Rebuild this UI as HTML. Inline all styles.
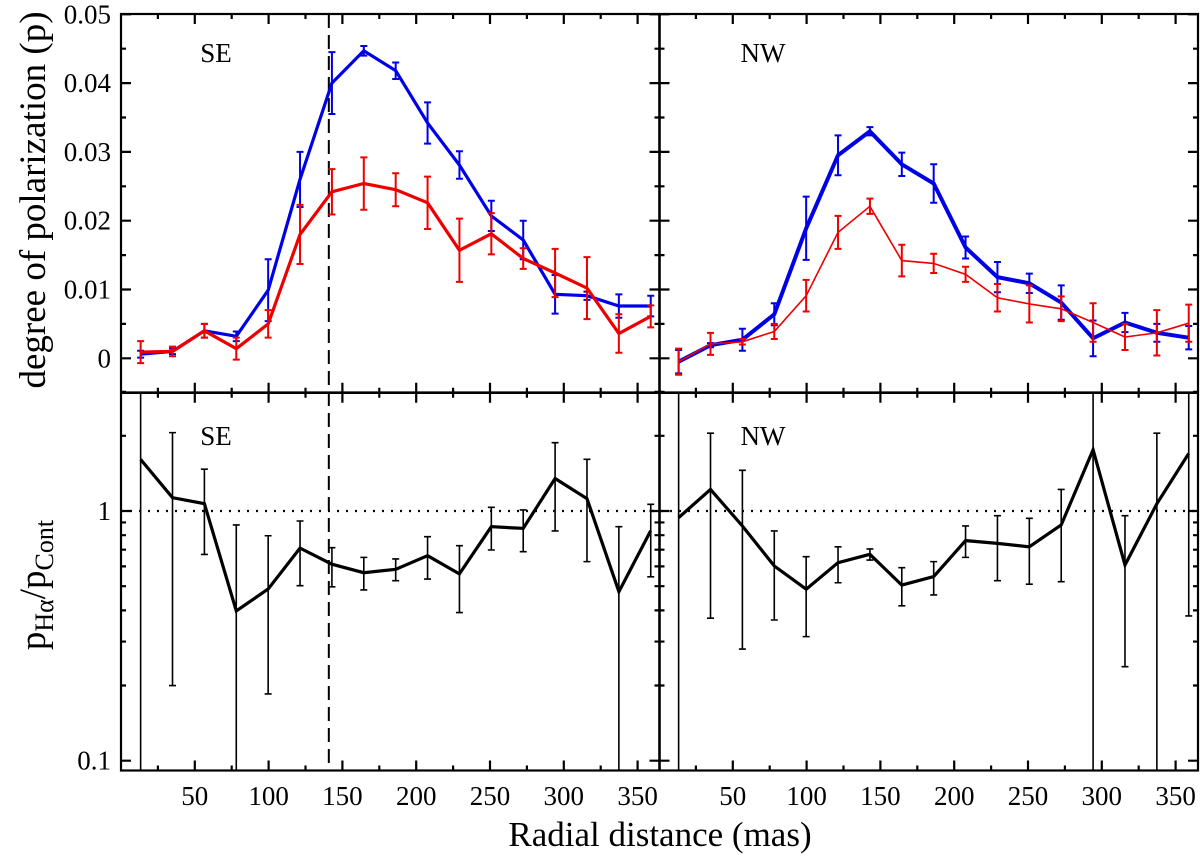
<!DOCTYPE html>
<html><head><meta charset="utf-8"><style>
html,body{margin:0;padding:0;background:#fff;width:1200px;height:868px;overflow:hidden;}
svg{display:block;}
svg text{font-family:"Liberation Serif","Times New Roman",serif;}
</style></head><body>
<svg id="chart" width="1200" height="868" viewBox="0 0 1200 868">
<defs>
<clipPath id="clipTL"><rect x="121" y="14" width="538" height="379"/></clipPath>
<clipPath id="clipTR"><rect x="659" y="14" width="539" height="379"/></clipPath>
<clipPath id="clipBL"><rect x="121" y="393" width="538" height="378"/></clipPath>
<clipPath id="clipBR"><rect x="659" y="393" width="539" height="378"/></clipPath>
</defs>
<g id="layer"></g>
<text x="45" y="200" font-size="37" text-anchor="middle" transform="rotate(-90 45 200)">degree of polarization (p)</text>
<text x="45" y="585" font-size="37" text-anchor="middle" transform="rotate(-90 45 585)">p<tspan font-size="26" dy="8">Hα</tspan><tspan dy="-8">/p</tspan><tspan font-size="26" dy="8">Cont</tspan></text>
<text x="660" y="846" font-size="35" text-anchor="middle">Radial distance (mas)</text>
<text x="216" y="62" font-size="27" text-anchor="middle">SE</text>
<text x="763" y="62" font-size="27" text-anchor="middle">NW</text>
<text x="216" y="445" font-size="27" text-anchor="middle">SE</text>
<text x="763" y="445" font-size="27" text-anchor="middle">NW</text>
</svg>
<script>
const radii = [13.3,34.9,56.5,78.1,99.7,121.3,142.9,164.5,186.1,207.7,229.3,250.9,272.5,294.1,315.7,337.3,358.9];
const seBlue = [0.0006,0.001,0.004,0.0032,0.0099,0.026,0.040,0.0447,0.0418,0.0342,0.0281,0.0207,0.0172,0.0093,0.0091,0.0076,0.0076];
const seBlueErr = [0.0005,0.0004,0.001,0.0007,0.0045,0.004,0.0045,0.0007,0.0012,0.003,0.002,0.0022,0.0028,0.0028,0.0006,0.0017,0.0015];
const seRed = [0.0009,0.001,0.004,0.0014,0.005,0.018,0.0242,0.0254,0.0245,0.0226,0.0157,0.0181,0.0145,0.0124,0.0102,0.0036,0.0061];
const seRedErr = [0.0016,0.0007,0.001,0.0016,0.002,0.0043,0.0033,0.0038,0.0024,0.0038,0.0046,0.003,0.0015,0.0035,0.0045,0.0028,0.0016];
const nwBlue = [-0.0005,0.0019,0.0027,0.0064,0.0189,0.0295,0.033,0.0282,0.0254,0.0161,0.0118,0.0109,0.0081,0.0029,0.0052,0.0037,0.003];
const nwBlueErr = [0.0017,0.0003,0.0016,0.0016,0.0046,0.0029,0.0006,0.0017,0.0028,0.0016,0.0022,0.0014,0.0025,0.0026,0.0014,0.0013,0.0017];
const nwRed = [-0.0005,0.0021,0.0024,0.0039,0.0091,0.0183,0.0221,0.0142,0.0138,0.0122,0.0088,0.0079,0.0072,0.0052,0.0031,0.0037,0.0051];
const nwRedErr = [0.0019,0.0016,0.0004,0.0011,0.0023,0.0024,0.0011,0.0023,0.0014,0.0011,0.002,0.0027,0.0018,0.0028,0.0019,0.0033,0.0027];
const seRatio = [1.61,1.13,1.07,0.398,0.487,0.71,0.612,0.566,0.584,0.662,0.56,0.865,0.852,1.35,1.12,0.475,0.834];
const seRatioHi = [10,2.06,1.47,0.879,0.796,0.912,0.713,0.652,0.643,0.789,0.726,1.035,1.01,1.877,1.61,0.865,1.064];
const seRatioLo = [0.01,0.20,0.67,0.01,0.185,0.502,0.497,0.483,0.526,0.534,0.392,0.698,0.687,0.832,0.627,0.01,0.545];
const nwRatio = [0.94,1.22,0.871,0.602,0.486,0.621,0.671,0.505,0.546,0.761,0.742,0.719,0.879,1.76,0.608,1.07,1.70];
const nwRatioHi = [10,2.05,1.455,0.832,0.656,0.719,0.705,0.593,0.627,0.871,0.958,0.935,1.22,10,0.958,2.05,10];
const nwRatioLo = [0.01,0.372,0.28,0.366,0.314,0.516,0.636,0.417,0.461,0.652,0.526,0.509,0.521,0.01,0.238,0.01,0.38];
const xTicks = [50,100,150,200,250,300,350];
const yTopTicks = [0,0.01,0.02,0.03,0.04,0.05];
const yTopLabels = ["0","0.01","0.02","0.03","0.04","0.05"];
const yBotTicks = [0.1,1];
const yBotLabels = ["0.1","1"];
const dashedX = 140.8;

const NS = "http://www.w3.org/2000/svg";
const layer = document.getElementById('layer');
const PX = 1.476;
const xL = v => 121 + v*PX;
const xR = v => 659 + v*PX;
const yT = v => 358.3 - v*6880;
const yB = v => 511 - 249.7*Math.log10(v);
function mk(tag, attrs, parent){
  const e = document.createElementNS(NS, tag);
  for (const k in attrs) e.setAttribute(k, attrs[k]);
  (parent||layer).appendChild(e);
  return e;
}
function series(xf, yf, vals, lo, hi, color, lw, ew, clip, name, ymin, ymax){
  const g = mk('g', {'clip-path':'url(#'+clip+')'});
  
  
  const cl = y => Math.max(ymin, Math.min(ymax, y));
  vals.forEach((v,i)=>{
    const x = xf(radii[i]);
    const r1 = yf(lo[i]), r2 = yf(hi[i]);
    const y1 = cl(r1), y2 = cl(r2);
    let d = `M${x},${y1}V${y2}`;
    if (r1 === y1) d += `M${x-3.5},${y1}h7`;
    if (r2 === y2) d += `M${x-3.5},${y2}h7`;
    const eb = mk('path', {d, stroke:color, 'stroke-width':ew, fill:'none'}, g);
    
    
  });
  const d = vals.map((v,i)=>(i?'L':'M')+xf(radii[i]).toFixed(1)+','+cl(yf(v)).toFixed(1)).join('');
  const ln = mk('path', {d, stroke:color, 'stroke-width':lw, fill:'none', 'stroke-linejoin':'miter'}, g);
  
  
}
const sub = (a,b)=>a.map((v,i)=>v-b[i]);
const add = (a,b)=>a.map((v,i)=>v+b[i]);

const dot = mk('path', {d:`M121,${yB(1)}H1198`, stroke:'#000', 'stroke-width':2.2, 'stroke-dasharray':'2 7', fill:'none'});


const dash = mk('path', {d:`M${xL(dashedX)},14V770`, stroke:'#000', 'stroke-width':2, 'stroke-dasharray':'14 7', fill:'none'});



series(xL, yT, seBlue, sub(seBlue,seBlueErr), add(seBlue,seBlueErr), '#0000e6', 3.2, 2, 'clipTL', 'se-continuum-series', 14, 392.7);
series(xL, yT, seRed, sub(seRed,seRedErr), add(seRed,seRedErr), '#ee0000', 3.2, 2, 'clipTL', 'se-halpha-series', 14, 392.7);
series(xR, yT, nwBlue, sub(nwBlue,nwBlueErr), add(nwBlue,nwBlueErr), '#0000e6', 4, 2, 'clipTR', 'nw-continuum-series', 14, 392.7);
series(xR, yT, nwRed, sub(nwRed,nwRedErr), add(nwRed,nwRedErr), '#ee0000', 1.6, 2, 'clipTR', 'nw-halpha-series', 14, 392.7);
series(xL, yB, seRatio, seRatioLo, seRatioHi, '#000', 3.2, 1.6, 'clipBL', 'se-ratio-series', 392.7, 770.5);
series(xR, yB, nwRatio, nwRatioLo, nwRatioHi, '#000', 3.2, 1.6, 'clipBR', 'nw-ratio-series', 392.7, 770.5);

const frame = mk('g', {stroke:'#000', fill:'none', 'stroke-width':2.2});


mk('rect', {x:121, y:14, width:1077, height:756.5}, frame);
mk('path', {d:'M121,392.7H1198M659.5,14V770.5', 'stroke-width':2.6}, frame);
let td = '';
[xL, xR].forEach(xf=>{
  for (let v=25; v<365; v+=25){
    const x = xf(v), len = (v%50===0)?10:5;
    td += `M${x},14v${len}M${x},392.7v${-len}M${x},392.7v${len}M${x},770.5v${-len}`;
  }
});
for (let v=-0.005; v<=0.0501; v+=0.005){
  const y = yT(v), major = Math.abs(Math.round(v*1000)%10)===0, len = major?10:5;
  td += `M121,${y}h${len}M659.5,${y}h${-len}M659.5,${y}h${len}M1198,${y}h${-len}`;
}
[0.1,0.2,0.3,0.4,0.5,0.6,0.7,0.8,0.9,1,2,3].forEach(v=>{
  const y = yB(v), len = (v===0.1||v===1)?10:5;
  td += `M121,${y}h${len}M659.5,${y}h${-len}M659.5,${y}h${len}M1198,${y}h${-len}`;
});
const ticks = mk('path', {d:td}, frame);



const labels = mk('g', {'font-size':27, fill:'#000'});


[xL, xR].forEach(xf=>{
  xTicks.forEach(v=>{
    const t = mk('text', {x:xf(v), y:805, 'text-anchor':'middle'}, labels);
    t.textContent = v;
    
    
  });
});
yTopTicks.forEach((v,i)=>{
  const t = mk('text', {x:111, y:yT(v)+9, 'text-anchor':'end'}, labels);
  t.textContent = yTopLabels[i];
  
  
});
yBotTicks.forEach((v,i)=>{
  const t = mk('text', {x:111, y:yB(v)+9, 'text-anchor':'end'}, labels);
  t.textContent = yBotLabels[i];
  
  
});
</script>
</body></html>
